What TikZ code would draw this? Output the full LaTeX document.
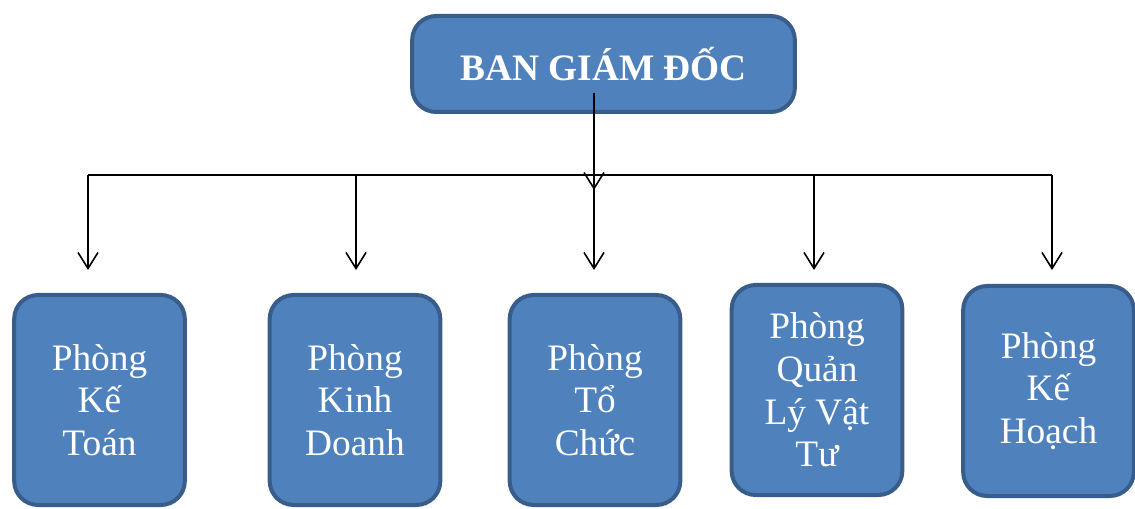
\documentclass[tikz,border=0pt]{standalone}
\usepackage{fontspec}
\setmainfont{Liberation Serif}
\usetikzlibrary{arrows.meta}
\definecolor{boxfill}{HTML}{4F81BD}
\definecolor{boxline}{HTML}{385D8A}
\tikzset{
	unit/.style={draw=boxline, fill=boxfill, line width=3pt, rounded corners=18pt,
		text=white, align=center, inner sep=0pt, font=\fontsize{28}{32}\selectfont},
	dept/.style={unit, minimum width=128pt, minimum height=157.5pt},
	link/.style={line width=1.2pt},
	linkarrow/.style={link, -{Straight Barb[length=12pt,width=15pt,line width=1.2pt]}}
}
\begin{document}
\begin{tikzpicture}[x=0.75pt, y=-0.75pt]
		\useasboundingbox (0, 0) rectangle (1135, 509);
		\node[unit, minimum width=287pt, minimum height=72pt, font=\fontsize{28}{32}\selectfont\bfseries] (bgd) at (603.5, 64) {BAN GIÁM ĐỐC};
		\node[dept] (ketoan) at (99.5, 400) {Phòng\\Kế\\Toán};
		\node[dept] (kinhdoanh) at (355, 400) {Phòng\\Kinh\\Doanh};
		\node[dept] (tochuc) at (595, 400) {Phòng\\Tổ\\Chức};
		\node[dept] (vattu) at (817, 390) {Phòng\\Quản\\Lý Vật\\Tư};
		\node[dept] (kehoach) at (1048.5, 391) {Phòng\\Kế\\Hoạch};
		% connectors
		\coordinate (src) at (594, 93);
		\coordinate (hub) at (594, 190);
		\coordinate (busl) at (88, 175);
		\coordinate (busr) at (1052, 175);
		\draw[linkarrow] (src) -- (hub);
		\draw[link] (busl) -- (busr);
		\foreach \x/\n in {88/a, 356/b, 594/c, 814/d, 1052/e} {
			\coordinate (top\n) at (\x, 175);
			\coordinate (tip\n) at (\x, 270);
			\draw[linkarrow] (top\n) -- (tip\n);
		}
	\end{tikzpicture}
\end{document}
